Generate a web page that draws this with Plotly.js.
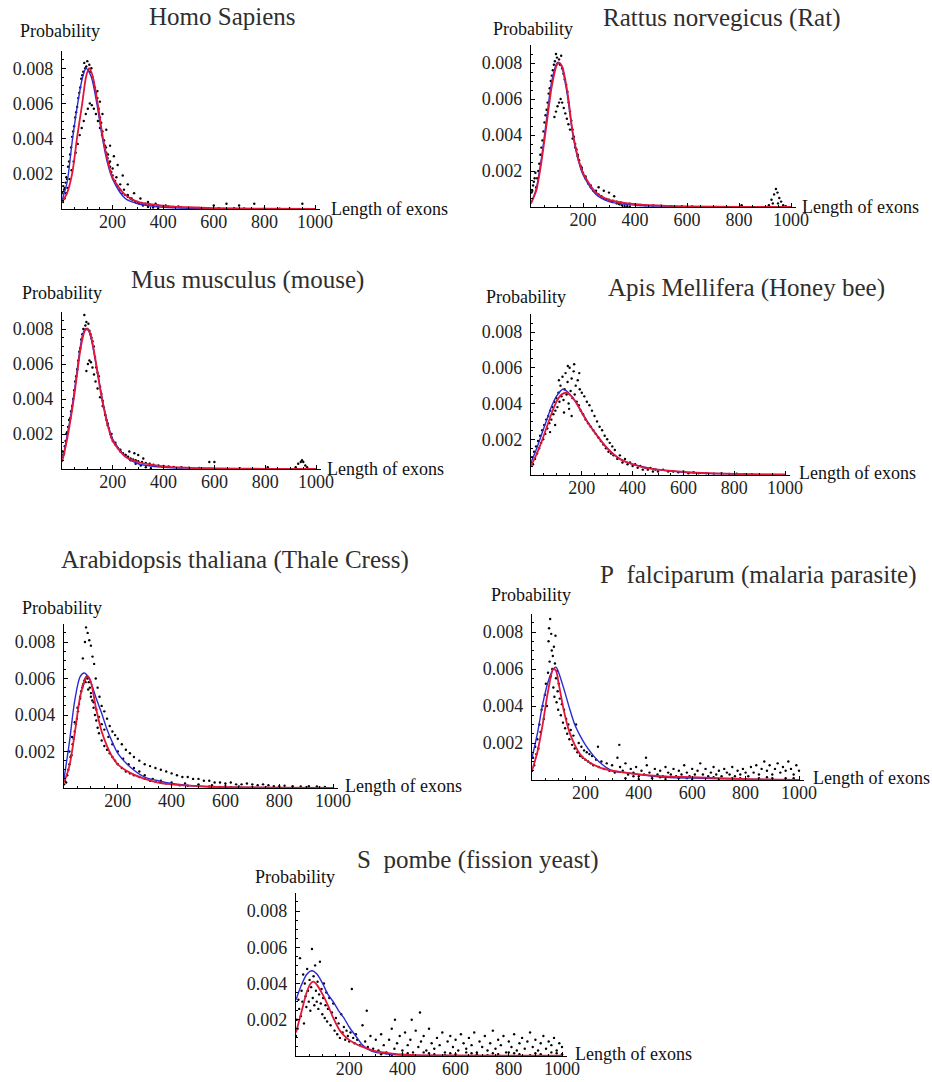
<!DOCTYPE html>
<html><head><meta charset="utf-8">
<script src="https://cdn.plot.ly/plotly-3.0.1.min.js"></script>
<style>html,body{margin:0;padding:0;background:#fff;} #chart{width:932px;height:1082px;}</style>
</head><body><div id="chart"></div>
<script>
// ---------- DATA ----------
const xTickVals = [200, 400, 600, 800, 1000];
const xTickText = ['200', '400', '600', '800', '1000'];
const yTickVals = [0.002, 0.004, 0.006, 0.008];
const yTickText = ['0.002', '0.004', '0.006', '0.008'];
const panelTitles = ['Homo Sapiens', 'Rattus norvegicus (Rat)', 'Mus musculus (mouse)', 'Apis Mellifera (Honey bee)',
  'Arabidopsis thaliana (Thale Cress)', 'P\u00a0 falciparum (malaria parasite)', 'S\u00a0 pombe (fission yeast)'];
const yLabel = 'Probability';
const xLabel = 'Length of exons';

// Homo sapiens
const homoRedX = [0,20,40,60,80,95,107,120,140,160,180,200,250,300,400,500,600,800,1000];
const homoRedY = [0.0004,0.0009,0.0020,0.0041,0.0060,0.0075,0.0080,0.0076,0.0061,0.0042,0.0028,0.0018,0.0008,0.0004,0.00018,0.0001,0.00005,0.00002,0.00001];
const homoBlueX = [0,20,40,60,80,95,110,120,140,160,180,200,250,300,400,500,1000];
const homoBlueY = [0.0005,0.0015,0.0038,0.0058,0.0074,0.0080,0.0077,0.0073,0.0058,0.0040,0.0026,0.0017,0.0006,0.0003,0.0001,0.00004,0];
const homoDotX = [2,5,8,11,14,17,20,24,28,32,36,40,44,48,52,56,60,64,68,72,76,80,84,88,92,96,100,104,108,112,116,120,125,130,135,140,145,150,155,160,165,170,175,180,185,190,195,200,210,220,230,240,250,260,270,280,290,300,315,330,345,360,380,400,420,440,470,500,540,580,
  4,10,16,22,30,38,46,54,62,70,78,86,94,102,110,118,126,134,142,150,158,166,174,182,190,200,215,230,245,260,275,290,305,320,340,360,380,
  140,150,160,175,190,205,220,240,260,285,310,340,370,410,460,
  600,650,700,760,950,620,680,720,800,860,900];
const homoDotY = [0.0009,0.0013,0.0011,0.0012,0.0015,0.0018,0.0017,0.0024,0.0027,0.0031,0.0035,0.0041,0.0044,0.0047,0.0052,0.0055,0.0058,0.0063,0.0066,0.0069,0.0074,0.0076,0.0078,0.0083,0.0080,0.0081,0.0084,0.0079,0.0082,0.0078,0.0080,0.0075,0.0072,0.0069,0.0066,0.0063,0.0057,0.0052,0.0049,0.0044,0.0039,0.0036,0.0032,0.0029,0.0026,0.0024,0.0021,0.0019,0.0016,0.0013,0.0011,0.0009,0.0008,0.0007,0.0006,0.0005,0.00045,0.0004,0.00035,0.0003,0.00026,0.00022,0.0002,0.00017,0.00015,0.00012,0.0001,0.00008,0.00006,0.00005,
  0.0004,0.0006,0.0009,0.0012,0.0017,0.0022,0.0027,0.0032,0.0037,0.0042,0.0046,0.0050,0.0054,0.0057,0.0060,0.0059,0.0057,0.0054,0.0050,0.0046,0.0042,0.0039,0.0035,0.0031,0.0027,0.0023,0.0018,0.0014,0.0011,0.0008,0.0006,0.0004,0.0003,0.0002,0.00012,0.00008,0.00005,
  0.0067,0.0061,0.0054,0.0045,0.0036,0.0030,0.0025,0.0019,0.0014,0.0009,0.0006,0.0004,0.0003,0.0002,0.00015,
  0.0002,0.0003,0.0002,0.0003,0.0003,0.00005,0.00004,0.00003,0.00002,0.00002,0.00002];

// Rattus norvegicus
const ratRedX = [0,20,40,60,80,100,110,120,140,160,180,200,250,300,400,500,600,800,1000];
const ratRedY = [0.0002,0.0009,0.0025,0.0046,0.0067,0.0079,0.0080,0.0078,0.0064,0.0042,0.0028,0.0019,0.0008,0.0004,0.00016,0.00008,0.00004,0.00001,0];
const ratBlueX = [0,20,40,60,80,100,110,120,140,160,180,200,250,300,400,500,1000];
const ratBlueY = [0.0002,0.0010,0.0027,0.0049,0.0070,0.0080,0.0080,0.0077,0.0062,0.0041,0.0027,0.0018,0.0007,0.0003,0.0001,0.00005,0];
const ratDotX = [2,5,8,11,14,17,20,24,28,32,36,40,44,48,52,56,60,64,68,72,76,80,84,88,92,96,100,104,108,112,116,120,125,130,135,140,145,150,155,160,165,170,175,180,185,190,195,200,210,220,230,240,250,260,270,280,290,300,315,330,345,360,380,400,420,440,470,500,540,580,620,
  90,96,102,108,114,120,126,132,138,144,150,160,170,180,195,210,230,250,270,290,310,330,350,370,
  300,320,280,260,340,360,380,
  810,915,925,935,942,948,955,962,970,980,930,950];
const ratDotY = [0.0008,0.0009,0.0012,0.0014,0.0016,0.0019,0.0011,0.0016,0.0020,0.0024,0.0029,0.0033,0.0037,0.0042,0.0047,0.0051,0.0054,0.0058,0.0063,0.0066,0.0070,0.0073,0.0076,0.0079,0.0081,0.0085,0.0083,0.0080,0.0082,0.0079,0.0084,0.0077,0.0074,0.0071,0.0068,0.0064,0.0058,0.0053,0.0048,0.0043,0.0039,0.0035,0.0032,0.0029,0.0026,0.0023,0.0021,0.0019,0.0016,0.0013,0.0011,0.0009,0.0008,0.0007,0.0006,0.0005,0.00045,0.0004,0.00035,0.0003,0.00025,0.0002,0.00018,0.00015,0.00012,0.0001,0.00008,0.00007,0.00005,0.00004,0.00003,
  0.0050,0.0053,0.0056,0.0058,0.0060,0.0058,0.0055,0.0052,0.0049,0.0046,0.0043,0.0038,0.0033,0.0028,0.0022,0.0017,0.0012,0.0009,0.0006,0.0004,0.0003,0.0002,0.0001,0.00005,
  0.0008,0.0006,0.0009,0.0011,0.00015,0.00005,0.00003,
  0.0001,0.0001,0.0004,0.0007,0.0010,0.0008,0.0005,0.0003,0.0001,0.00005,0.0002,0.0002];

// Mus musculus
const mouseRedX = [0,10,20,30,40,50,60,70,80,90,100,110,120,130,140,150,160,180,200,250,300,400,500,600,800,1000];
const mouseRedY = [0.0004,0.0010,0.0017,0.0025,0.0034,0.0044,0.0055,0.0066,0.0074,0.0079,0.0080,0.0078,0.0072,0.0064,0.0055,0.0046,0.0038,0.0025,0.0016,0.0007,0.0004,0.00015,0.00007,0.00004,0.00001,0];
const mouseBlueX = [0,10,20,30,40,50,60,70,80,90,100,110,120,130,140,150,160,180,200,250,300,400,500,1000];
const mouseBlueY = [0.0005,0.0011,0.0019,0.0027,0.0036,0.0046,0.0057,0.0068,0.0076,0.0080,0.0080,0.0077,0.0071,0.0063,0.0055,0.0047,0.0039,0.0026,0.0017,0.0007,0.0003,0.0001,0.00005,0];
const mouseDotX = [2,5,8,11,14,17,20,24,28,32,36,40,44,48,52,56,60,64,68,72,76,80,84,88,92,96,100,104,108,112,116,120,125,130,135,140,145,150,155,160,165,170,175,180,185,190,195,200,210,220,230,240,250,260,270,280,290,300,315,330,345,360,380,400,420,440,470,500,540,
  96,102,108,114,120,126,132,140,150,160,170,180,195,210,230,250,270,290,310,330,350,
  285,300,265,320,
  580,600,700,810,920,930,940,945,950,958,965];
const mouseDotY = [0.0010,0.0008,0.0009,0.0013,0.0016,0.0020,0.0021,0.0024,0.0028,0.0029,0.0033,0.0036,0.0040,0.0045,0.0050,0.0053,0.0057,0.0062,0.0067,0.0069,0.0074,0.0077,0.0080,0.0088,0.0082,0.0084,0.0080,0.0083,0.0079,0.0077,0.0075,0.0073,0.0070,0.0064,0.0058,0.0055,0.0053,0.0047,0.0043,0.0039,0.0035,0.0031,0.0028,0.0025,0.0023,0.0020,0.0018,0.0016,0.0014,0.0012,0.0010,0.0009,0.0008,0.0007,0.0006,0.00055,0.0005,0.00045,0.0004,0.00035,0.0003,0.00025,0.0002,0.00018,0.00015,0.00012,0.0001,0.00008,0.00006,
  0.0056,0.0060,0.0062,0.0061,0.0058,0.0054,0.0050,0.0046,0.0041,0.0036,0.0031,0.0026,0.0020,0.0015,0.0011,0.0008,0.0005,0.0003,0.0002,0.0001,0.00005,
  0.0009,0.0008,0.0010,0.0006,
  0.0004,0.0004,0.00005,0.0001,0.0001,0.0003,0.0004,0.0005,0.0004,0.0002,0.0001];

// Apis mellifera
const beeRedX = [0,20,40,60,80,100,120,140,160,180,200,220,250,300,350,400,450,500,600,700,800,900,1000];
const beeRedY = [0.0005,0.0011,0.0018,0.0026,0.0034,0.0041,0.0045,0.0046,0.0044,0.0040,0.0035,0.0030,0.0024,0.0015,0.0009,0.0006,0.0004,0.0003,0.00018,0.0001,0.00006,0.00004,0.00003];
const beeBlueX = [0,20,40,60,80,100,125,140,160,180,200,250,300,350,400,500,600,800,1000];
const beeBlueY = [0.0007,0.0014,0.0022,0.0030,0.0038,0.0044,0.0048,0.0047,0.0044,0.0040,0.0035,0.0024,0.0015,0.0009,0.0006,0.0003,0.00015,0.00005,0.00002];
const beeDotX = [0,4,8,12,16,20,24,28,32,36,40,44,48,52,56,60,64,68,72,76,80,84,88,92,96,100,104,108,112,116,120,124,128,132,136,140,144,148,152,156,160,164,168,172,176,180,184,188,192,196,200,205,210,215,220,225,230,235,240,245,250,255,260,265,270,275,280,285,290,295,300,305,310,315,320,325,330,340,350,360,370,380,390,400,410,420,430,440,450,460,470,480,490,500,520,540,560,580,600,620,640,660,690,720,750,780,810,840,870,
  130,150,170,145,110,160,190,95,75];
const beeDotY = [0.0007,0.0010,0.0006,0.0013,0.0009,0.0016,0.0012,0.0019,0.0015,0.0022,0.0018,0.0025,0.0020,0.0028,0.0023,0.0031,0.0026,0.0033,0.0029,0.0036,0.0031,0.0038,0.0034,0.0041,0.0036,0.0043,0.0038,0.0046,0.0041,0.0050,0.0044,0.0055,0.0042,0.0048,0.0057,0.0045,0.0052,0.0040,0.0060,0.0047,0.0054,0.0043,0.0058,0.0045,0.0050,0.0041,0.0053,0.0039,0.0048,0.0036,0.0046,0.0034,0.0044,0.0031,0.0041,0.0029,0.0039,0.0027,0.0036,0.0025,0.0033,0.0023,0.0030,0.0021,0.0027,0.0019,0.0025,0.0017,0.0022,0.0015,0.0020,0.0013,0.0018,0.0012,0.0016,0.0011,0.0014,0.0009,0.0011,0.0007,0.0009,0.0006,0.0007,0.0005,0.0006,0.0004,0.0005,0.0003,0.0004,0.0003,0.0004,0.0002,0.0003,0.0002,0.0003,0.0002,0.0002,0.00015,0.0002,0.0001,0.00015,0.0001,0.0001,0.00008,0.0001,0.00006,0.00008,0.00005,0.00005,
  0.0035,0.0037,0.0062,0.0061,0.0053,0.0033,0.0057,0.0028,0.0024];

// Arabidopsis thaliana
const araRedX = [0,20,40,60,80,90,100,120,140,160,180,200,250,300,350,400,500,600,800,1000];
const araRedY = [0.0003,0.0012,0.0030,0.0050,0.0060,0.0061,0.0058,0.0043,0.0031,0.0023,0.0017,0.0013,0.0008,0.0005,0.0003,0.0002,0.0001,0.00005,0.00002,0];
const araBlueX = [0,20,40,60,75,90,100,120,140,160,180,200,250,300,350,400,500,600,800,1000];
const araBlueY = [0.0005,0.0025,0.0048,0.0061,0.0063,0.0061,0.0058,0.0049,0.0041,0.0032,0.0025,0.0019,0.0011,0.0006,0.0004,0.00025,0.0001,0.00005,0.00001,0];
const araDotX = [0,4,8,12,16,20,24,28,32,36,40,44,48,52,56,60,64,68,72,76,80,84,88,92,96,100,105,110,115,120,125,130,140,150,160,170,180,190,200,215,230,245,260,280,300,320,340,360,380,400,430,460,500,540,580,620,
  70,78,82,88,94,100,106,112,118,125,132,140,150,160,170,180,190,200,215,230,245,260,280,300,320,340,360,380,400,420,440,460,480,500,520,540,560,580,600,620,640,660,680,700,720,740,760,780,800,820,850,880,910,940,970,
  20,30,40,50,60,70,80,90,100,110,120,130,140,150,165,180,200,220,240,260,280,300,330,360,400,450,500,550,600,650,700,750,800,850,900,950];
const araDotY = [0.0002,0.0004,0.0003,0.0007,0.0010,0.0013,0.0017,0.0018,0.0024,0.0027,0.0031,0.0035,0.0038,0.0042,0.0046,0.0049,0.0053,0.0055,0.0057,0.0059,0.0060,0.0061,0.0060,0.0058,0.0055,0.0052,0.0048,0.0044,0.0040,0.0037,0.0033,0.0030,0.0026,0.0023,0.0021,0.0019,0.0017,0.0015,0.0013,0.0011,0.0009,0.0008,0.0007,0.0006,0.0005,0.0004,0.00035,0.0003,0.00025,0.0002,0.00015,0.00012,0.0001,0.00008,0.00006,0.00005,
  0.0071,0.0080,0.0088,0.0085,0.0081,0.0078,0.0072,0.0068,0.0060,0.0055,0.0050,0.0045,0.0042,0.0038,0.0034,0.0031,0.0029,0.0027,0.0024,0.0021,0.0019,0.0017,0.0015,0.0013,0.0012,0.0011,0.0010,0.0009,0.0008,0.0007,0.0006,0.0006,0.0005,0.0005,0.0004,0.0004,0.0003,0.0003,0.00025,0.0003,0.0002,0.0002,0.00025,0.0002,0.00015,0.0002,0.00015,0.0001,0.0001,0.00012,0.0001,0.00008,0.0001,0.00008,0.00006,
  0.0020,0.0028,0.0036,0.0044,0.0050,0.0056,0.0058,0.0054,0.0050,0.0047,0.0043,0.0039,0.0035,0.0032,0.0028,0.0024,0.0020,0.0016,0.0013,0.0011,0.0009,0.0007,0.0005,0.0004,0.0003,0.00025,0.0002,0.00015,0.0001,0.00008,0.00006,0.00005,0.00004,0.00004,0.00003,0.00003];

// Plasmodium falciparum
const plasRedX = [0,20,40,60,80,90,100,120,140,160,180,200,250,300,350,400,500,600,700,800,1000];
const plasRedY = [0.0005,0.0015,0.0030,0.0048,0.0060,0.0059,0.0052,0.0037,0.0026,0.0019,0.0014,0.0011,0.0007,0.0005,0.0004,0.0003,0.0002,0.00015,0.0001,0.00005,0];
const plasBlueX = [0,20,40,60,80,90,100,120,140,160,180,200,220,250,300,350,400,500,600,800,1000];
const plasBlueY = [0.0012,0.0025,0.0041,0.0053,0.0060,0.0061,0.0058,0.0049,0.0039,0.0030,0.0024,0.0019,0.0015,0.0010,0.0005,0.0004,0.0003,0.00015,0.0001,0.00005,0];
const plasDotX = [0,4,8,12,16,20,24,28,32,36,40,44,48,52,56,60,62,64,66,68,70,72,74,76,78,80,82,84,86,88,90,92,94,96,98,100,104,108,112,116,120,124,128,132,136,140,145,150,155,160,165,170,175,180,185,190,195,200,205,210,215,220,225,230,240,247,250,260,270,280,290,300,310,320,327,330,
  340,350,360,370,380,390,400,410,420,427,430,440,450,460,470,480,490,500,510,520,530,540,550,560,570,580,590,600,610,620,630,640,650,660,670,680,690,700,710,720,730,740,750,760,770,780,790,800,810,820,830,840,850,860,870,880,890,900,910,920,930,940,950,960,970,980,990,1000,
  350,400,450,500,550,600,650,700,750,800,850,900,950,380,480,580,680,780,880,980];
const plasDotY = [0.0005,0.0012,0.0008,0.0018,0.0014,0.0022,0.0017,0.0030,0.0026,0.0038,0.0040,0.0033,0.0046,0.0052,0.0040,0.0058,0.0075,0.0082,0.0064,0.0087,0.0056,0.0079,0.0070,0.0060,0.0067,0.0050,0.0072,0.0045,0.0063,0.0078,0.0055,0.0042,0.0059,0.0048,0.0038,0.0052,0.0044,0.0035,0.0041,0.0031,0.0038,0.0028,0.0033,0.0025,0.0030,0.0022,0.0027,0.0019,0.0024,0.0017,0.0030,0.0015,0.0020,0.0013,0.0018,0.0012,0.0016,0.0011,0.0015,0.0010,0.0014,0.0009,0.0013,0.0008,0.0011,0.0018,0.0007,0.0010,0.0006,0.0009,0.0005,0.0008,0.0004,0.0012,0.0019,0.0007,
  0.0005,0.0009,0.0003,0.0006,0.0004,0.0007,0.0002,0.0005,0.0003,0.0012,0.0008,0.0004,0.0002,0.0006,0.0003,0.0005,0.0002,0.0007,0.0004,0.0003,0.0006,0.0002,0.0005,0.0003,0.0008,0.0004,0.0002,0.0006,0.0003,0.0005,0.0009,0.0003,0.0006,0.0002,0.0004,0.0007,0.0003,0.0005,0.0002,0.0006,0.0004,0.0003,0.0007,0.0002,0.0005,0.0003,0.0006,0.0004,0.0002,0.0007,0.0004,0.0008,0.0003,0.0006,0.0010,0.0005,0.0008,0.0003,0.0006,0.0009,0.0004,0.0007,0.0005,0.0010,0.0006,0.0003,0.0008,0.0005,
  0.0001,0.00005,0.0001,0.00005,0.0001,0.00005,0.0001,0.00005,0.0001,0.00005,0.0001,0.0001,0.0001,0.0002,0.00015,0.0001,0.00015,0.0001,0.00015,0.0001];

// Schizosaccharomyces pombe
const pombeRedX = [0,20,40,55,65,80,100,120,140,165,190,220,250,290,330,380,450,600,1000];
const pombeRedY = [0.0013,0.0024,0.0035,0.0040,0.0041,0.0039,0.0034,0.0028,0.0021,0.0014,0.0010,0.0007,0.0005,0.0003,0.0002,0.0001,0.00005,0.00003,0.00002];
const pombeBlueX = [0,20,40,60,80,100,120,140,160,180,200,230,250,280,300,350,400,600,1000];
const pombeBlueY = [0.0031,0.0039,0.0045,0.0047,0.0045,0.0040,0.0034,0.0030,0.0025,0.0021,0.0016,0.0010,0.0006,0.0003,0.0002,0.0001,0.00005,0.00002,0];
const pombeDotX = [0,3,6,9,12,15,18,21,24,27,30,33,36,39,42,45,48,51,54,57,60,63,66,69,72,75,78,81,84,87,90,93,96,99,102,105,108,111,114,117,120,125,130,135,140,145,150,155,160,165,170,175,180,185,190,195,200,205,210,215,220,225,230,240,250,260,266,270,280,290,300,
  310,320,330,340,350,360,370,372,380,390,400,410,420,430,435,440,450,460,466,470,480,490,500,510,520,530,540,550,560,570,580,590,600,610,620,630,640,650,660,670,680,690,700,710,720,730,740,750,760,770,780,790,800,810,820,830,840,850,860,870,880,890,900,910,920,930,940,950,960,970,980,990,1000,
  320,360,400,440,480,520,560,600,640,680,720,760,800,840,880,920,960,1000,340,420,500,580,660,740,820,900,980];
const pombeDotY = [0.0011,0.0020,0.0015,0.0031,0.0026,0.0054,0.0022,0.0036,0.0030,0.0045,0.0018,0.0040,0.0033,0.0027,0.0048,0.0036,0.0030,0.0042,0.0025,0.0038,0.0059,0.0032,0.0044,0.0028,0.0050,0.0036,0.0030,0.0041,0.0026,0.0034,0.0052,0.0029,0.0037,0.0023,0.0032,0.0040,0.0021,0.0028,0.0035,0.0019,0.0026,0.0032,0.0017,0.0024,0.0029,0.0014,0.0021,0.0012,0.0018,0.0010,0.0023,0.0013,0.0016,0.0009,0.0014,0.0011,0.0008,0.0013,0.0037,0.0010,0.0007,0.0012,0.0009,0.0006,0.0017,0.0008,0.0025,0.0005,0.0011,0.0004,0.0009,
  0.0003,0.0012,0.0006,0.0002,0.0009,0.0015,0.0004,0.0020,0.0007,0.0011,0.0003,0.0013,0.0006,0.0009,0.0020,0.0002,0.0014,0.0005,0.0024,0.0008,0.0011,0.0003,0.0015,0.0007,0.0004,0.0010,0.0006,0.0013,0.0002,0.0008,0.0011,0.0005,0.0009,0.0003,0.0012,0.0007,0.0004,0.0010,0.0006,0.0013,0.0002,0.0008,0.0005,0.0011,0.0003,0.0007,0.0014,0.0004,0.0009,0.0006,0.0011,0.0002,0.0008,0.0005,0.0012,0.0003,0.0007,0.0010,0.0004,0.0008,0.0013,0.0005,0.0009,0.0003,0.0007,0.0011,0.0004,0.0008,0.0006,0.0010,0.0003,0.0007,0.0005,
  0.0001,0.00005,0.0001,0.00005,0.0002,0.0001,0.00005,0.0001,0.0002,0.0001,0.00005,0.0001,0.0002,0.0001,0.00005,0.0001,0.0002,0.0001,0.00015,0.00015,0.00015,0.00015,0.00015,0.00015,0.00015,0.00015,0.00015];

// ---------- LAYOUT / DRAWING ----------
const W = 932, H = 1082;
const series = [
  {dx: homoDotX, dy: homoDotY, rx: homoRedX, ry: homoRedY, bx: homoBlueX, by: homoBlueY},
  {dx: ratDotX, dy: ratDotY, rx: ratRedX, ry: ratRedY, bx: ratBlueX, by: ratBlueY},
  {dx: mouseDotX, dy: mouseDotY, rx: mouseRedX, ry: mouseRedY, bx: mouseBlueX, by: mouseBlueY},
  {dx: beeDotX, dy: beeDotY, rx: beeRedX, ry: beeRedY, bx: beeBlueX, by: beeBlueY},
  {dx: araDotX, dy: araDotY, rx: araRedX, ry: araRedY, bx: araBlueX, by: araBlueY},
  {dx: plasDotX, dy: plasDotY, rx: plasRedX, ry: plasRedY, bx: plasBlueX, by: plasBlueY},
  {dx: pombeDotX, dy: pombeDotY, rx: pombeRedX, ry: pombeRedY, bx: pombeBlueX, by: pombeBlueY}
];
// pixel geometry of each panel: left edge, px per x-unit, y of zero, px per y-unit, label positions
const geom = [
  {L: 62,  kx: 0.253, Y0: 209,  ky: 17600, t: [222, 17],  p: [60, 31],   l: [329, 209]},
  {L: 531, kx: 0.260, Y0: 207,  ky: 18000, t: [721, 18],  p: [533, 29],  l: [800, 207]},
  {L: 62,  kx: 0.254, Y0: 469,  ky: 17500, t: [247, 280], p: [62, 293],  l: [325, 469]},
  {L: 531, kx: 0.254, Y0: 475,  ky: 17875, t: [746, 288], p: [526, 297], l: [797, 473]},
  {L: 64,  kx: 0.269, Y0: 788,  ky: 18250, t: [235, 560], p: [62, 608],  l: [343, 786]},
  {L: 532, kx: 0.267, Y0: 780,  ky: 18500, t: [758, 575], p: [531, 595], l: [811, 778]},
  {L: 296, kx: 0.266, Y0: 1056, ky: 18125, t: [478, 860], p: [295, 877], l: [573, 1054]}
];
const XMAX = 1020, YMAX = 0.009;
const serif = 'Liberation Serif, Times New Roman, serif';
const traces = [];
const layout = {
  width: W, height: H, margin: {l: 0, r: 0, t: 0, b: 0},
  paper_bgcolor: '#fff', plot_bgcolor: 'rgba(0,0,0,0)', showlegend: false,
  annotations: []
};
geom.forEach((g, i) => {
  const n = i + 1;
  const xa = 'x' + (n === 1 ? '' : n), ya = 'y' + (n === 1 ? '' : n);
  const s = series[i];
  traces.push({type: 'scatter', mode: 'markers', x: s.dx, y: s.dy, xaxis: xa, yaxis: ya,
    marker: {size: 2.4, color: '#000', line: {width: 0}}, hoverinfo: 'skip'});
  traces.push({type: 'scatter', mode: 'lines', x: s.bx, y: s.by, xaxis: xa, yaxis: ya,
    line: {color: '#2b2bd4', width: 1.4, shape: 'spline', smoothing: 0.8}, hoverinfo: 'skip'});
  traces.push({type: 'scatter', mode: 'lines', x: s.rx, y: s.ry, xaxis: xa, yaxis: ya,
    line: {color: '#e3173a', width: 1.8, shape: 'spline', smoothing: 0.8}, hoverinfo: 'skip'});
  const xd = [g.L / W, (g.L + XMAX * g.kx) / W];
  const yd = [1 - g.Y0 / H, 1 - (g.Y0 - YMAX * g.ky) / H];
  const tickFont = {family: serif, size: 18, color: '#222'};
  layout['xaxis' + (n === 1 ? '' : n)] = {
    domain: xd, range: [0, XMAX], anchor: ya, showgrid: false, zeroline: false,
    showline: true, linecolor: '#000', linewidth: 1.2,
    tickmode: 'array', tickvals: xTickVals, ticktext: xTickText,
    ticks: 'inside', ticklen: 4, tickwidth: 1, tickcolor: '#000', tickfont: tickFont,
    ticklabelstandoff: -4,
    minor: {dtick: 50, ticks: 'inside', ticklen: 2, tickcolor: '#000', showgrid: false},
    fixedrange: true
  };
  layout['yaxis' + (n === 1 ? '' : n)] = {
    domain: yd, range: [0, YMAX], anchor: xa, showgrid: false, zeroline: false,
    showline: true, linecolor: '#000', linewidth: 1.2,
    tickmode: 'array', tickvals: yTickVals, ticktext: yTickText,
    ticks: 'inside', ticklen: 4, tickwidth: 1, tickcolor: '#000', tickfont: tickFont,
    ticklabelstandoff: 4,
    minor: {dtick: 0.0005, ticks: 'inside', ticklen: 2, tickcolor: '#000', showgrid: false},
    fixedrange: true
  };
  layout.annotations.push({xref: 'paper', yref: 'paper', x: g.t[0] / W, y: 1 - g.t[1] / H,
    xanchor: 'center', yanchor: 'middle', showarrow: false, text: panelTitles[i],
    font: {family: serif, size: 25, color: '#2e2e2e'}});
  layout.annotations.push({xref: 'paper', yref: 'paper', x: g.p[0] / W, y: 1 - g.p[1] / H,
    xanchor: 'center', yanchor: 'middle', showarrow: false, text: yLabel,
    font: {family: serif, size: 18, color: '#111'}});
  layout.annotations.push({xref: 'paper', yref: 'paper', x: g.l[0] / W, y: 1 - g.l[1] / H,
    xanchor: 'left', yanchor: 'middle', showarrow: false, text: xLabel,
    font: {family: serif, size: 18, color: '#111'}});
});
Plotly.newPlot('chart', traces, layout, {staticPlot: true, displayModeBar: false});
</script></body></html>
